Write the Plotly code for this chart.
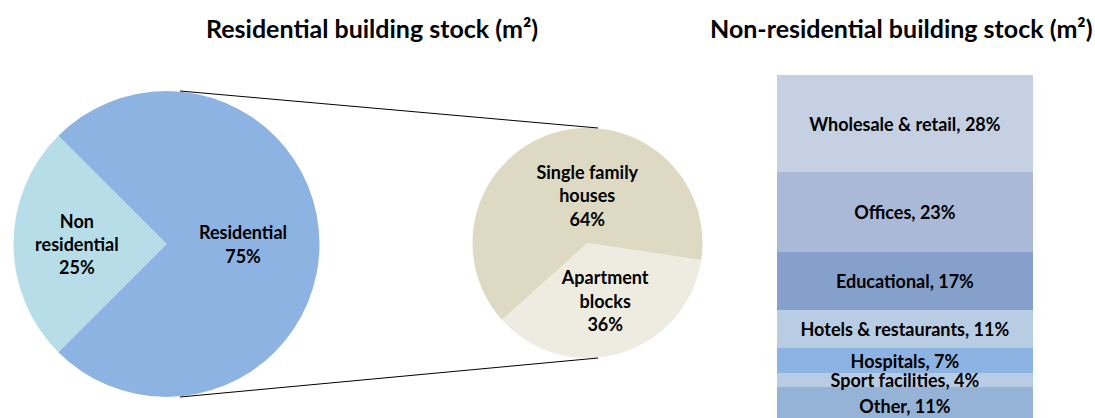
import plotly.graph_objects as go

W, H = 1095, 418

# ---- data ----
stock_labels = ["Residential", "Non residential"]
stock_text = ["Residential", "Non<br>residential"]
stock_values = [75, 25]
stock_colors = ["#8DB3E2", "#B7DDE8"]

res_labels = ["Apartment blocks", "Single family houses"]
res_text = ["Apartment<br>blocks", "Single family<br>houses"]
res_values = [36, 64]
res_colors = ["#EEECE1", "#DDD9C3"]

nonres_labels = ["Other", "Sport facilities", "Hospitals", "Hotels & restaurants",
                 "Educational", "Offices", "Wholesale & retail"]
nonres_values = [11, 4, 7, 11, 17, 23, 28]
nonres_colors = ["#95B3D7", "#B8CCE4", "#8DB3E2", "#B8CCE4", "#86A0CC", "#ABB9D8", "#C5D0E3"]

titles = ["Residential building stock (m²)", "Non-residential building stock (m²)"]

FONT = "Lato"
LBL = 18

def px(x):
    return x / W

def py(y):
    return 1 - y / H

fig = go.Figure()

fig.add_trace(go.Pie(
    labels=stock_labels, values=stock_values, text=stock_text,
    marker=dict(colors=stock_colors, line=dict(width=0)),
    sort=False, direction="clockwise", rotation=-45,
    textinfo="text+percent", texttemplate="<b>%{text}<br>%{percent:.0%}</b>",
    textposition="inside", insidetextorientation="horizontal",
    textfont=dict(family=FONT, size=LBL, color="black"),
    domain=dict(x=[px(13), px(320)], y=[py(397), py(91)]),
    showlegend=False, hoverinfo="label+percent",
))

fig.add_trace(go.Pie(
    labels=res_labels, values=res_values, text=res_text,
    marker=dict(colors=res_colors, line=dict(width=0)),
    sort=False, direction="clockwise", rotation=98.5,
    textinfo="text+percent", texttemplate="<b>%{text}<br>%{percent:.0%}</b>",
    textposition="inside", insidetextorientation="horizontal",
    textfont=dict(family=FONT, size=LBL, color="black"),
    domain=dict(x=[px(472), px(703)], y=[py(358), py(128)]),
    showlegend=False, hoverinfo="label+percent",
))

for lab, val, col in zip(nonres_labels, nonres_values, nonres_colors):
    fig.add_trace(go.Bar(
        x=["Non-residential"], y=[val], name=lab,
        marker=dict(color=col, line=dict(width=0)),
        text=[f"<b>{lab}, {val}%</b>"], textposition="inside",
        insidetextanchor="middle", constraintext="none",
        textfont=dict(family=FONT, size=LBL, color="black"),
        showlegend=False, cliponaxis=True,
    ))

fig.update_layout(
    width=W, height=H, margin=dict(l=0, r=0, t=0, b=0),
    paper_bgcolor="white", plot_bgcolor="white",
    barmode="stack", bargap=0,
    uniformtext=dict(minsize=LBL, mode="show"),
    xaxis=dict(domain=[px(777), px(1033)], visible=False, range=[-0.5, 0.5]),
    yaxis=dict(domain=[0, py(75)], visible=False, range=[1.9, sum(nonres_values)]),
    font=dict(family=FONT),
)

# connector lines from big pie to small pie
fig.add_shape(type="line", xref="paper", yref="paper",
              x0=px(180), y0=py(91), x1=px(598), y1=py(128),
              line=dict(color="black", width=1))
fig.add_shape(type="line", xref="paper", yref="paper",
              x0=px(180), y0=py(397), x1=px(598), y1=py(358),
              line=dict(color="black", width=1))

for t, xc in zip(titles, [372, 901]):
    fig.add_annotation(text=f"<b>{t}</b>", xref="paper", yref="paper",
                       x=px(xc), y=py(28), xanchor="center", yanchor="middle",
                       showarrow=False, font=dict(family=FONT, size=25, color="black"))

fig.write_html("out.html", config={"displayModeBar": False},
               post_script="document.body.style.margin='0';")
